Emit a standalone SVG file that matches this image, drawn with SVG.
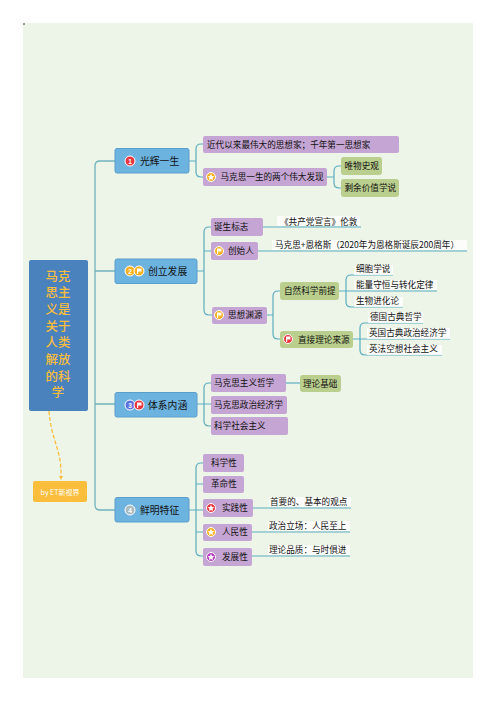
<svg xmlns="http://www.w3.org/2000/svg" width="497" height="702" viewBox="0 0 497 702">
<style>
text{font-family:"Noto Sans CJK SC","Liberation Sans",sans-serif;fill:#111}
.t{font-size:8.6px}
.b{font-size:9.8px}
.blue{fill:#6db3e0;stroke:#5a9fcb;stroke-width:1}
.pur{fill:#c5a5d3}
.grn{fill:#bacf8d}
.c{fill:none;stroke:#5aaebf;stroke-width:1.2}
.c0{fill:none;stroke:#6fb3bd;stroke-width:1.3}
.wb{fill:#fff;opacity:.8}
.i{stroke:#fff;stroke-width:1}
.n{font-size:6.5px;fill:#fff;text-anchor:middle;font-family:"Liberation Sans",sans-serif;font-weight:bold}
.w{fill:#fff}
text.root{font-family:"Liberation Sans","Noto Sans CJK SC",sans-serif;font-size:12.5px;fill:#f9bd3d;text-anchor:middle;font-weight:500}
</style>
<defs>
<path id="flag" class="w" d="M-2-2.500h4.500v3h-3.300v2.500h-1.200z"/>
<path id="star" class="w" d="M0-3.200l1 2.100 2.300.3-1.700 1.600.4 2.300-2-1.100-2 1.100.4-2.300-1.700-1.600 2.300-.3z"/>
</defs>
<rect width="497" height="702" fill="#fff"/>
<rect x="23" y="23" width="450" height="655" fill="#edf4e8"/>
<rect x="23" y="23" width="2" height="2" fill="#999"/>
<g id="connectors">
<path class="c0" d="M115 161H100Q95 161 95 166V505Q95 510 100 510H115M95 271H115M95 404H115"/>
<path class="c" d="M189 161H196M196 161V149Q196 144 201 144H204M196 161V172Q196 177 201 177H204"/>
<path class="c" d="M326 177H334M334 177V171Q334 166 339 166H342M334 177V183Q334 188 339 188H342"/>
<path class="c" d="M197 271H204M204 271V232Q204 227 209 227H212M204 271V251H212M204 271V310Q204 315 209 315H212"/>
<path class="c" d="M263 227H361M258 251H467"/>
<path class="c" d="M266 315H273M273 315V296Q273 291 278 291H281M273 315V334Q273 339 278 339H281"/>
<path class="c" d="M338 291H346M346 291V280Q346 275 351 275H393M346 291H437M346 291V302Q346 307 351 307H403"/>
<path class="c" d="M352 339H360M360 339V328Q360 323 365 323H423M360 339H450M360 339V350Q360 355 365 355H442"/>
<path class="c" d="M197 404H204M204 404V388Q204 383 209 383H212M204 404H212M204 404V421Q204 426 209 426H212"/>
<path class="c" d="M286 383H300"/>
<path class="c" d="M189 510H196M196 510V468Q196 463 201 463H204M196 510V551Q196 556 201 556H204M196 484H204M196 510H204M196 532H204"/>
<path class="c" d="M252 508H351M252 532H350M252 556H350"/>
<path fill="none" stroke="#fbbd3c" stroke-width="1.3" stroke-dasharray="4 2" d="M49 411C51 440 62 450 61 477"/>
<path fill="#fbbd3c" d="M59 476H63L61 480Z"/>
</g>
<g id="root"><rect x="29" y="260" width="59" height="151" rx="2" fill="#4a82bd"/>
<text class="root"><tspan x="58" y="280.500">马克</tspan><tspan x="58" y="297.200">思主</tspan><tspan x="58" y="313.900">义是</tspan><tspan x="58" y="330.600">关于</tspan><tspan x="58" y="347.300">人类</tspan><tspan x="58" y="364">解放</tspan><tspan x="58" y="380.700">的科</tspan><tspan x="58" y="397.400">学</tspan></text></g>
<g id="by"><rect x="33" y="481" width="54" height="21" rx="2" fill="#fbbd3c"/><text x="60" y="494.500" font-size="7" text-anchor="middle" style="fill:#fff">by ET新视界</text></g>
<g id="n1"><rect class="blue" x="115" y="148.500" width="74" height="24.500" rx="2"/><circle class="i" cx="130" cy="161" r="5" fill="#e8363f"/><text class="n" x="130" y="163.500">1</text><text class="b" x="140" y="164.500">光辉一生</text></g>
<g id="n2"><rect class="blue" x="115" y="259" width="82" height="24.500" rx="2"/><circle class="i" cx="130" cy="271" r="5" fill="#fbb11f"/><text class="n" x="130" y="273.500">2</text><circle class="i" cx="139" cy="271" r="5" fill="#fbb11f"/><use href="#flag" x="139" y="271"/><text class="b" x="148" y="274.500">创立发展</text></g>
<g id="n3"><rect class="blue" x="115" y="392.500" width="82" height="24.500" rx="2"/><circle class="i" cx="130" cy="405" r="5" fill="#5a6fe0"/><text class="n" x="130" y="407.500">3</text><circle class="i" cx="139" cy="405" r="5" fill="#e8363f"/><use href="#flag" x="139" y="405"/><text class="b" x="148" y="408.500">体系内涵</text></g>
<g id="n4"><rect class="blue" x="115" y="497.500" width="74" height="24.500" rx="2"/><circle class="i" cx="130" cy="510" r="5" fill="#a9bcc0"/><text class="n" x="130" y="512.500">4</text><text class="b" x="140" y="513.500">鲜明特征</text></g>
<g id="a1"><rect class="pur" x="203" y="136" width="196" height="17" rx="2"/><text class="t" x="207" y="147.500">近代以来最伟大的思想家；千年第一思想家</text></g>
<g id="a2"><rect class="pur" x="203" y="168" width="124" height="18" rx="2"/><circle class="i" cx="211" cy="177" r="4.500" fill="#fbb11f"/><use href="#star" x="211" y="177"/><text class="t" x="220.500" y="180">马克思一生的两个伟大发现</text></g>
<g id="a3"><rect class="grn" x="341" y="157" width="41" height="18" rx="3"/><text class="t" x="344.500" y="169">唯物史观</text></g>
<g id="a4"><rect class="grn" x="341" y="179" width="58" height="18" rx="3"/><text class="t" x="344.500" y="191">剩余价值学说</text></g>
<g id="b1"><rect class="pur" x="211" y="218" width="52" height="18" rx="2"/><text class="t" x="214" y="230">诞生标志</text></g>
<g id="b1t"><rect class="wb" x="277" y="216" width="83" height="10"/><text class="t" x="280" y="224.500">《共产党宣言》伦敦</text></g>
<g id="b2"><rect class="pur" x="211" y="242" width="47" height="18" rx="2"/><circle class="i" cx="219" cy="251" r="4.500" fill="#fbb11f"/><use href="#flag" x="219" y="251"/><text class="t" x="228" y="254">创始人</text></g>
<g id="b2t"><rect class="wb" x="272" y="240" width="195" height="10"/><text class="t" x="275" y="248" textLength="184">马克思+恩格斯（2020年为恩格斯诞辰200周年）</text></g>
<g id="b3"><rect class="pur" x="212" y="307" width="55" height="17" rx="2"/><circle class="i" cx="219" cy="315" r="4.500" fill="#fbb11f"/><use href="#flag" x="219" y="315"/><text class="t" x="228" y="318">思想渊源</text></g>
<g id="c1"><rect class="grn" x="280" y="282" width="59" height="18" rx="3"/><text class="t" x="284" y="294">自然科学前提</text></g>
<g id="c2"><rect class="grn" x="280" y="331" width="73" height="17" rx="3"/><circle class="i" cx="288" cy="339" r="4.500" fill="#e8363f"/><use href="#flag" x="288" y="339"/><text class="t" x="298" y="342.500">直接理论来源</text></g>
<g id="d1"><rect class="wb" x="354" y="265" width="39" height="10"/><text class="t" x="356" y="272">细胞学说</text></g>
<g id="d2"><rect class="wb" x="354" y="280" width="83" height="10"/><text class="t" x="356" y="288">能量守恒与转化定律</text></g>
<g id="d3"><rect class="wb" x="354" y="297" width="49" height="10"/><text class="t" x="356" y="304">生物进化论</text></g>
<g id="e1"><rect class="wb" x="368" y="312" width="55" height="11"/><text class="t" x="370" y="320">德国古典哲学</text></g>
<g id="e2"><rect class="wb" x="367" y="328" width="83" height="11"/><text class="t" x="369" y="336">英国古典政治经济学</text></g>
<g id="e3"><rect class="wb" x="367" y="345" width="75" height="10"/><text class="t" x="369" y="352">英法空想社会主义</text></g>
<g id="f1"><rect class="pur" x="211" y="374" width="75" height="18" rx="2"/><text class="t" x="214" y="386">马克思主义哲学</text></g>
<g id="f2"><rect class="grn" x="300" y="375" width="41" height="17" rx="3"/><text class="t" x="303" y="386.500">理论基础</text></g>
<g id="f3"><rect class="pur" x="211" y="396" width="76" height="18" rx="2"/><text class="t" x="214" y="408">马克思政治经济学</text></g>
<g id="f4"><rect class="pur" x="211" y="417" width="77" height="18" rx="2"/><text class="t" x="214" y="429">科学社会主义</text></g>
<g id="g1"><rect class="pur" x="203" y="454" width="41" height="18" rx="2"/><text class="t" x="211" y="466">科学性</text></g>
<g id="g2"><rect class="pur" x="203" y="476" width="41" height="17" rx="2"/><text class="t" x="211" y="487">革命性</text></g>
<g id="g3"><rect class="pur" x="203" y="499" width="50" height="18" rx="2"/><circle class="i" cx="211" cy="508" r="4.500" fill="#e8363f"/><use href="#star" x="211" y="508"/><text class="t" x="222" y="511">实践性</text></g>
<g id="g3t"><rect class="wb" x="269" y="497" width="82" height="10"/><text class="t" x="270" y="505">首要的、基本的观点</text></g>
<g id="g4"><rect class="pur" x="203" y="524" width="49" height="17" rx="2"/><circle class="i" cx="211" cy="532" r="4.500" fill="#fbb11f"/><use href="#star" x="211" y="532"/><text class="t" x="222" y="535">人民性</text></g>
<g id="g4t"><rect class="wb" x="268" y="521" width="82" height="10"/><text class="t" x="269" y="529">政治立场：人民至上</text></g>
<g id="g5"><rect class="pur" x="203" y="548" width="49" height="18" rx="2"/><circle class="i" cx="211" cy="557" r="4.500" fill="#b43fc0"/><use href="#star" x="211" y="557"/><text class="t" x="222" y="559.500">发展性</text></g>
<g id="g5t"><rect class="wb" x="268" y="545" width="82" height="10"/><text class="t" x="269" y="553">理论品质：与时俱进</text></g>
</svg>
